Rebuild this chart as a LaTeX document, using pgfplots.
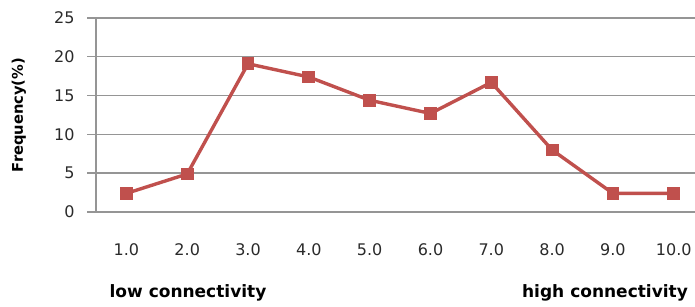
\documentclass[border=0pt]{standalone}
\usepackage{pgfplots}
\pgfplotsset{compat=1.18}
\usepackage{fontspec}
\setmainfont{DejaVu Sans}
\definecolor{exred}{HTML}{C0504D}
\definecolor{gridgray}{HTML}{959595}
\definecolor{txt}{HTML}{2A2A2A}
\newcommand{\tfont}{\fontsize{16}{18}\selectfont}
\begin{document}
\begin{tikzpicture}[x=1pt,y=1pt]
\begin{axis}[
  at={(96pt,95pt)}, anchor=south west,
  scale only axis, width=599pt, height=194pt,
  xmin=0.5, xmax=10.35, ymin=0, ymax=25,
  xtick={1,...,10},
  xticklabels={1.0,2.0,3.0,4.0,5.0,6.0,7.0,8.0,9.0,10.0},
  ytick={0,5,10,15,20,25},
  ymajorgrids, grid style={gridgray, line width=1.4pt},
  axis lines=left,
  axis line style={gridgray, line width=1.4pt, -},
  tick align=outside,
  major tick length=9pt,
  xtick style={draw=none},
  ytick style={gridgray, line width=1.4pt},
  /pgf/number format/assume math mode=true,
  xticklabel style={font=\tfont, text=txt, yshift=-19pt},
  yticklabel style={font=\tfont, text=txt, xshift=-9pt},
  clip=false,
]
\addplot[exred, line width=3.4pt, mark=square*, mark size=4.7pt, mark options={solid}] coordinates {
(1,2.4) (2,4.9) (3,19.1) (4,17.4) (5,14.4) (6,12.7) (7,16.7) (8,8.0) (9,2.4) (10,2.4)
};
\end{axis}
\node[rotate=90, font=\bfseries\fontsize{14.7}{16}\selectfont, text=black] at (19pt,192pt) {Frequency(\%)};
\node[font=\bfseries\fontsize{17}{18}\selectfont, text=black, anchor=base] at (188pt,9pt) {low connectivity};
\node[font=\bfseries\fontsize{17}{18}\selectfont, text=black, anchor=base] at (605pt,9pt) {high connectivity};
\pgfresetboundingbox
\useasboundingbox (0,0) rectangle (695pt,307pt);
\end{tikzpicture}
\end{document}
